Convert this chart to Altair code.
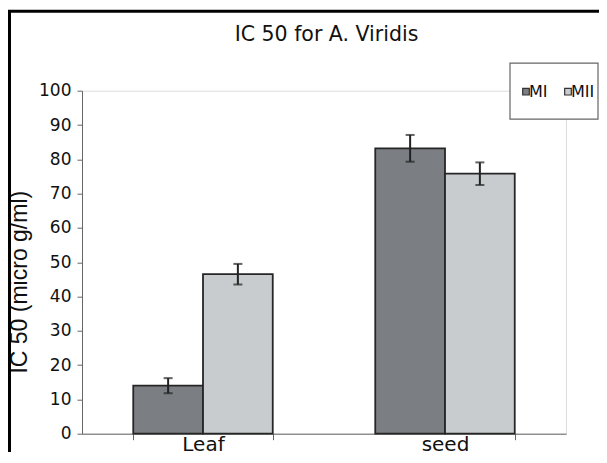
import altair as alt
import pandas as pd

categories = ["Leaf", "seed"]
series = ["MI", "MII"]
mi_values = [14.0, 83.2]
mii_values = [46.5, 75.8]
mi_errors = [2.2, 3.9]
mii_errors = [3.0, 3.3]
colors = ["#7b7f83", "#c9ccce"]
y_ticks = list(range(0, 101, 10))
chart_title = "IC 50 for A. Viridis"
y_title = "IC 50 (micro g/ml)"

rows = []
for i, c in enumerate(categories):
    rows.append({"Part": c, "Series": "MI", "IC50": mi_values[i], "err": mi_errors[i]})
    rows.append({"Part": c, "Series": "MII", "IC50": mii_values[i], "err": mii_errors[i]})
df = pd.DataFrame(rows)
df["lo"] = df["IC50"] - df["err"]
df["hi"] = df["IC50"] + df["err"]

FONT = "DejaVu Sans"
W, H = 484, 343

x_axis = alt.Axis(title=None, tickBand="extent", labelAngle=0, labelFontSize=20,
                  labelFont=FONT, labelColor="#111", tickSize=6, tickColor="#666",
                  domainColor="#666", labelPadding=11, labelBaseline="alphabetic",
                  grid=False)
y_axis = alt.Axis(values=y_ticks, grid=False, title=y_title,
                  labelFontSize=17, labelFont=FONT, labelColor="#111",
                  tickSize=5, tickColor="#666", domainColor="#666", labelPadding=6,
                  titleFont="Liberation Sans", titleFontSize=23, titleFontWeight="normal",
                  titleColor="#111", titleAngle=270, titleX=-56, titleY=191,
                  titleAlign="center", titleBaseline="alphabetic")
x_scale = alt.Scale(paddingInner=0.4236, paddingOuter=0.2118)
y_scale = alt.Scale(domain=[0, 100])

def X():
    return alt.X("Part:N", sort=categories, scale=x_scale, axis=x_axis)

def Y(field):
    return alt.Y(field, scale=y_scale, axis=y_axis)

xo = alt.XOffset("Series:N", sort=series)
base = alt.Chart(df)

bars = base.mark_bar(stroke="#262626", strokeWidth=1.8).encode(
    x=X(), xOffset=xo, y=Y("IC50:Q"),
    color=alt.Color("Series:N", sort=series,
                    scale=alt.Scale(domain=series, range=colors),
                    legend=alt.Legend(orient="none", legendX=436, legendY=-7,
                                      direction="horizontal", title=None,
                                      symbolType="square", symbolSize=44,
                                      symbolStrokeColor="#333", symbolStrokeWidth=1.2,
                                      labelFontSize=16, labelFont=FONT, labelColor="#111",
                                      labelOffset={"expr": "-5"}, columnPadding=12,
                                      padding=0)),
)

rule = base.mark_rule(color="#222", strokeWidth=2).encode(
    x=X(), xOffset=xo, y=Y("lo:Q"), y2="hi:Q",
)
cap_lo = base.mark_tick(color="#222", thickness=2, size=9).encode(
    x=X(), xOffset=xo, y=Y("lo:Q"),
)
cap_hi = base.mark_tick(color="#222", thickness=2, size=9).encode(
    x=X(), xOffset=xo, y=Y("hi:Q"),
)

deco = pd.DataFrame({"k": [0]})
frame = alt.Chart(deco).mark_rect(fill=None, stroke="#000", strokeWidth=3).encode(
    x=alt.value(-72.5), x2=alt.value(700), y=alt.value(-79.5), y2=alt.value(700),
)
legend_box = alt.Chart(deco).mark_rect(fill="white", stroke="#666", strokeWidth=1.2).encode(
    x=alt.value(428), x2=alt.value(516), y=alt.value(-27.5), y2=alt.value(28.5),
)
title_mark = alt.Chart(deco).mark_text(font=FONT, fontSize=20.5, color="#111",
                                       align="center", baseline="alphabetic").encode(
    x=alt.value(244.5), y=alt.value(-49.5), text=alt.value(chart_title),
)

chart = alt.layer(frame, legend_box, title_mark, bars, rule, cap_lo, cap_hi).properties(
    width=W, height=H,
    autosize=alt.AutoSizeParams(type="none"),
    padding={"left": 74, "top": 82.7, "right": 33, "bottom": 18.3},
).configure_view(stroke=None).configure_axis(grid=False).configure(background="white")

chart.save("out.html", embed_options={"renderer": "svg", "actions": False})
